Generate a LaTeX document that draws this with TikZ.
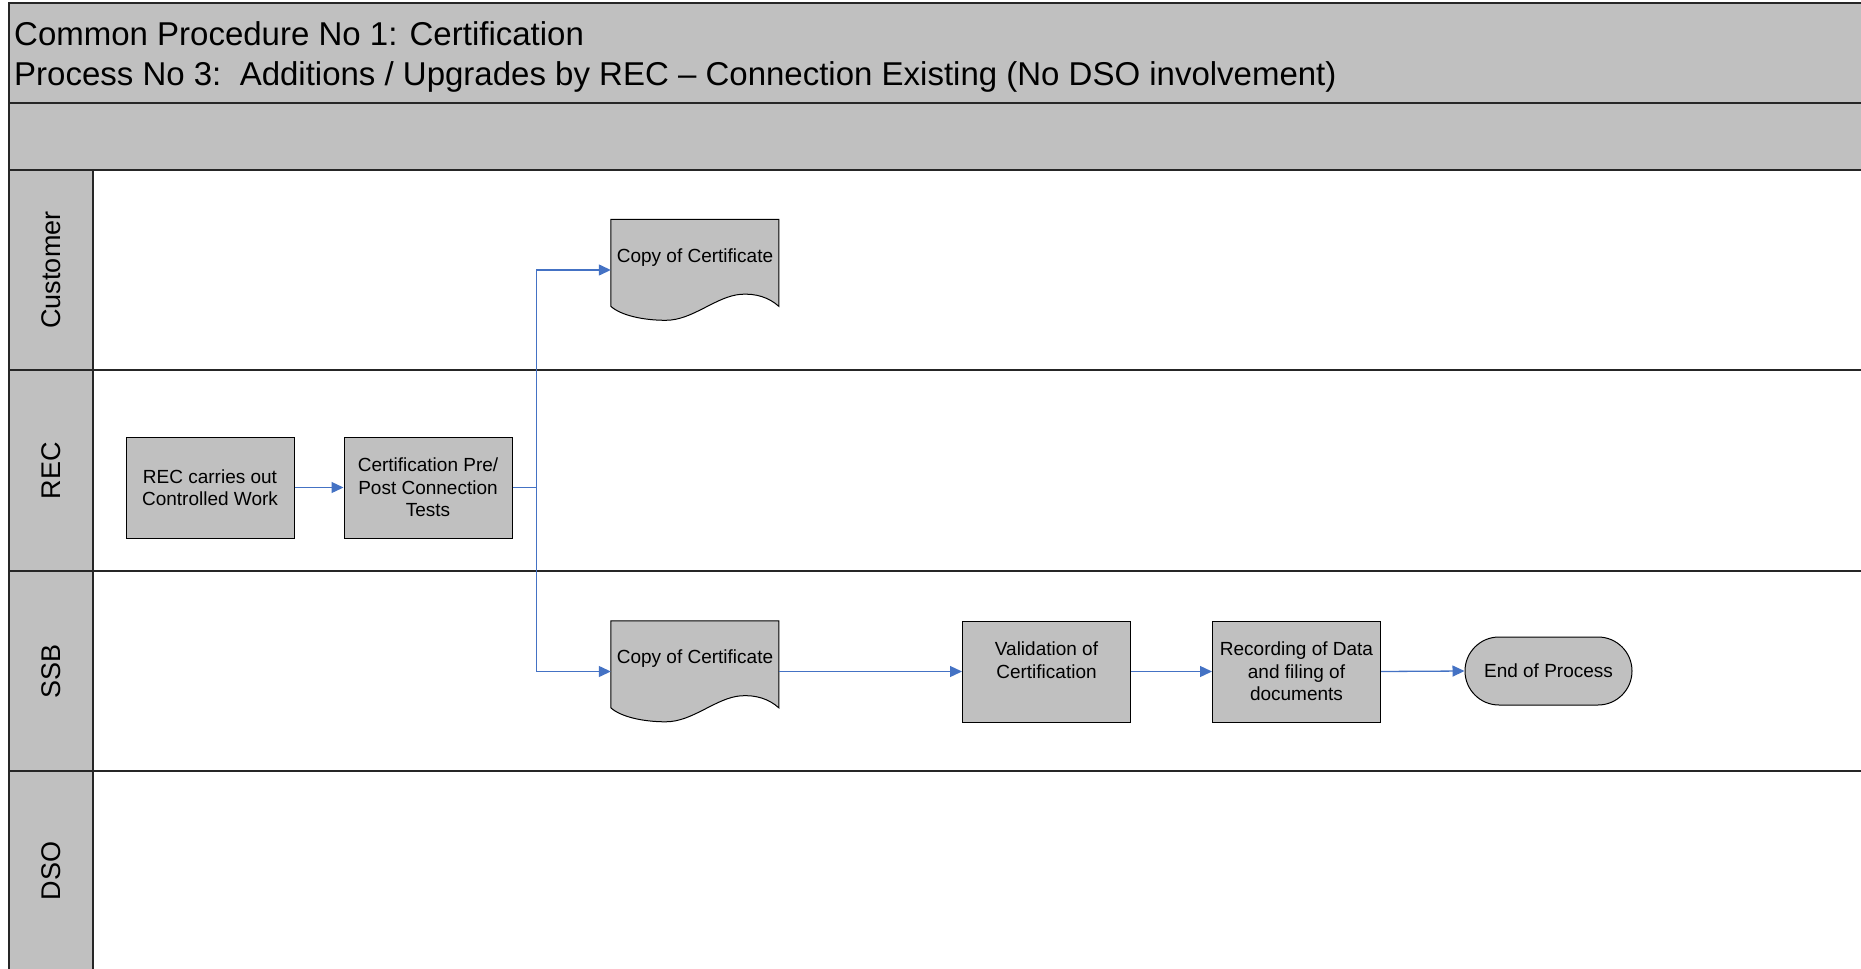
\documentclass[tikz,border=0pt]{standalone}
\usepackage{fontspec}
\setmainfont{Liberation Sans}
\usetikzlibrary{arrows.meta,calc}
\definecolor{fillg}{RGB}{192,192,192}
\definecolor{arrblue}{RGB}{68,114,196}
\begin{document}
\begin{tikzpicture}[x=1pt,y=-1pt,
  lane/.style={draw=black!85, line width=1.6pt},
  box/.style={draw=black, line width=1pt, fill=fillg, rectangle, minimum width=168pt, minimum height=101pt, inner sep=2pt, align=center, font=\fontsize{19}{22.5}\selectfont},
  docbox/.style={rectangle, minimum width=168pt, minimum height=101pt, inner sep=0pt},
  doctext/.style={align=center, font=\fontsize{19}{22.5}\selectfont, inner sep=0pt},
  docshape/.style={draw=black, line width=1pt, fill=fillg},
  endbox/.style={draw=black, line width=1pt, fill=fillg, rectangle, rounded corners=34pt, minimum width=167pt, minimum height=68pt, inner sep=2pt, align=center, font=\fontsize{19}{22.5}\selectfont},
  lanelabel/.style={rotate=90, font=\fontsize{27}{30}\selectfont, inner sep=0pt},
  titletext/.style={anchor=base west, font=\fontsize{33}{38}\selectfont, inner sep=0pt},
  arr/.style={draw=arrblue, line width=1.3pt, -{Triangle[length=12pt,width=11pt]}},
  link/.style={draw=arrblue, line width=1.3pt}
]
\useasboundingbox (0,0) rectangle (1861,969);
\fill[white] (0,0) rectangle (1861,969);
% header
\fill[fillg] (9,3) rectangle (1861,170);
\fill[fillg] (9,170) rectangle (93,969);
\draw[lane] (1861,3) -- (9,3) -- (9,969);
\draw[lane] (9,103) -- (1861,103);
\draw[lane] (9,170) -- (1861,170);
\draw[lane] (93,170) -- (93,969);
\draw[lane] (9,370) -- (1861,370);
\draw[lane] (9,571) -- (1861,571);
\draw[lane] (9,771) -- (1861,771);
% titles
\node[titletext] (t1) at (14,45) {Common Procedure No 1: Certification};
\node[titletext] (t2) at (14,85) {Process No 3:\ \ Additions / Upgrades by REC -- Connection Existing (No DSO involvement)};
% lane labels
\node[lanelabel] (lcust) at (51,270) {Customer};
\node[lanelabel] (lrec) at (51,470.5) {REC};
\node[lanelabel] (lssb) at (51,671) {SSB};
\node[lanelabel] (ldso) at (51,871) {DSO};
% process boxes
\node[box] (rec) at (210,487.5) {REC carries out\\Controlled Work};
\node[box] (cert) at (428,487.5) {Certification Pre/\\Post Connection\\Tests};
\node[box] (val) at (1046.5,671.5) {Validation of\\Certification\\\mbox{}};
\node[box] (recd) at (1296.5,671.5) {Recording of Data\\and filing of\\documents};
\node[endbox] (endp) at (1548.5,671) {End of Process};
% document shapes
\node[docbox] (c1) at (695,270) {};
\node[docbox] (c2) at (695,671.5) {};
\foreach \d in {c1,c2}{
  \begin{scope}[shift={(\d.north west)}]
    \path[docshape] (0,0) -- (168,0) -- (168,87)
      .. controls (158,78) and (145,74) .. (130,75)
      .. controls (105,77) and (82,101) .. (55,101)
      .. controls (32,101) and (10,96) .. (0,87) -- cycle;
  \end{scope}
}
\node[doctext] (c1t) at ($(c1.center)+(0,-12.5)$) {Copy of Certificate};
\node[doctext] (c2t) at ($(c2.center)+(0,-12.5)$) {Copy of Certificate};
% connectors
\draw[arr] (rec.east) -- (cert.west);
\draw[link] (cert.east) -- ++(24,0) coordinate (j);
\draw[arr] (j) |- (c1.west);
\draw[arr] (j) |- (c2.west);
\draw[arr] (c2.east) -- (val.west);
\draw[arr] (val.east) -- (recd.west);
\draw[arr] (recd.east) -- (endp.west);
\end{tikzpicture}
\end{document}
